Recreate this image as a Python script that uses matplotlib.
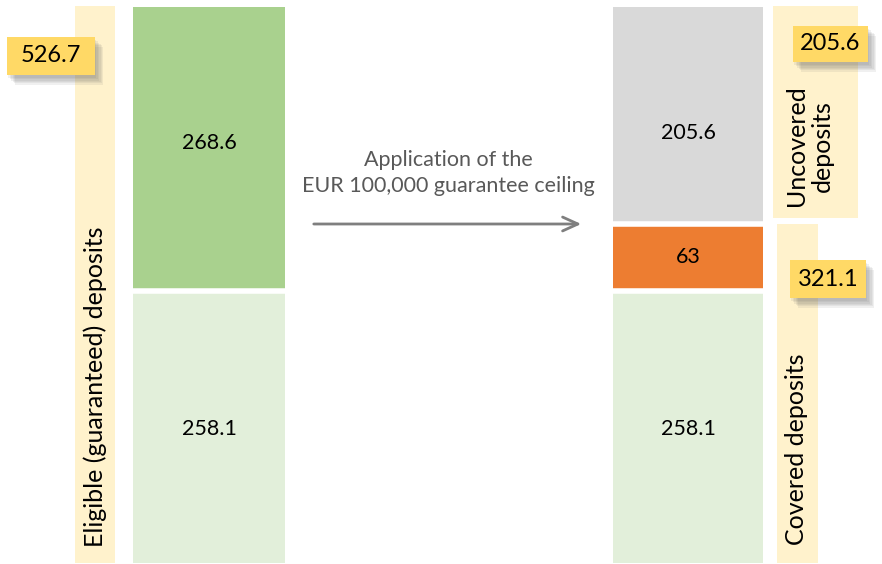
import matplotlib.pyplot as plt
from matplotlib.patches import Rectangle
import matplotlib.patheffects as pe

plt.rcParams['font.family'] = ['Lato', 'DejaVu Sans']

# values (EUR bn)
eligible_parts = [258.1, 268.6]          # bottom -> top
covered_parts = [258.1, 63.0, 205.6]     # bottom -> top
eligible_colors = ['#E2EFDA', '#A9D18E']
covered_colors = ['#E2EFDA', '#ED7D31', '#D9D9D9']
total_eligible = 526.7
total_covered = 321.1
total_uncovered = 205.6

W, H = 882, 564
fig = plt.figure(figsize=(W / 100, H / 100), dpi=100)
ax = fig.add_axes([0, 0, 1, 1])
scale = 556 / total_eligible  # pixels per unit
ax.set_xlim(0, W)
ax.set_ylim(-1 / scale, 563 / scale)
ax.axis('off')


def v(py):
    # pixel row -> value units
    return (563 - py) / scale


# pale side bands
band = '#FFF2CC'
ax.add_patch(Rectangle((75, 0), 40, v(6), color=band, lw=0))
ax.add_patch(Rectangle((773, v(218)), 85, v(6) - v(218), color=band, lw=0))
ax.add_patch(Rectangle((777, 0), 41, v(224), color=band, lw=0))

# stacked bars, white lines as gaps between segments
def stack(x, width, parts, colors, fracs):
    bottom = 0
    for val, col, fr in zip(parts, colors, fracs):
        ax.bar(x, val, width=width, bottom=bottom, color=col, linewidth=0)
        ax.text(x, bottom + val * fr, f'{val:g}', ha='center', va='center', fontsize=15.5)
        bottom += val
        if bottom < sum(parts) - 0.1:
            ax.hlines(bottom, x - width / 2, x + width / 2, color='white', lw=4)


stack(209, 152, eligible_parts, eligible_colors, [0.49, 0.52])
stack(688, 150, covered_parts, covered_colors, [0.49, 0.5, 0.42])

# band labels
ax.text(95, v(387), 'Eligible (guaranteed) deposits', rotation=90,
        ha='center', va='center', fontsize=18)
ax.text(809, v(146), 'Uncovered\ndeposits', rotation=90,
        ha='center', va='center', fontsize=18, linespacing=1.15)
ax.text(797, v(449), 'Covered deposits', rotation=90,
        ha='center', va='center', fontsize=18)

# arrow and caption
ax.annotate('', xy=(584, v(224)), xytext=(311, v(224)),
            arrowprops=dict(arrowstyle='->,head_length=1.1,head_width=0.5',
                            color='#7F7F7F', lw=2))
ax.text(448, v(173), 'Application of the\nEUR 100,000 guarantee ceiling',
        ha='center', va='center', fontsize=15.5, color='#595959', linespacing=1.35)

# yellow callouts with soft (layered) shadow
shadow = [pe.SimplePatchShadow(offset=(d, -d - 1), shadow_rgbFace='#606060', alpha=0.09)
          for d in (1, 2, 3, 4, 5, 6)] + [pe.Normal()]
callouts = [(7, 37, 88, 38, total_eligible),
            (793, 26, 75, 36, total_uncovered),
            (790, 260, 76, 38, total_covered)]
for x0, y0, w, h, val in callouts:
    r = Rectangle((x0, v(y0 + h)), w, v(y0) - v(y0 + h), fc='#FFD966', ec='none')
    r.set_path_effects(shadow)
    ax.add_patch(r)
    ax.text(x0 + w / 2, v(y0 + h / 2), f'{val:g}', ha='center', va='center', fontsize=17)

fig.savefig('out.png', dpi=100)
